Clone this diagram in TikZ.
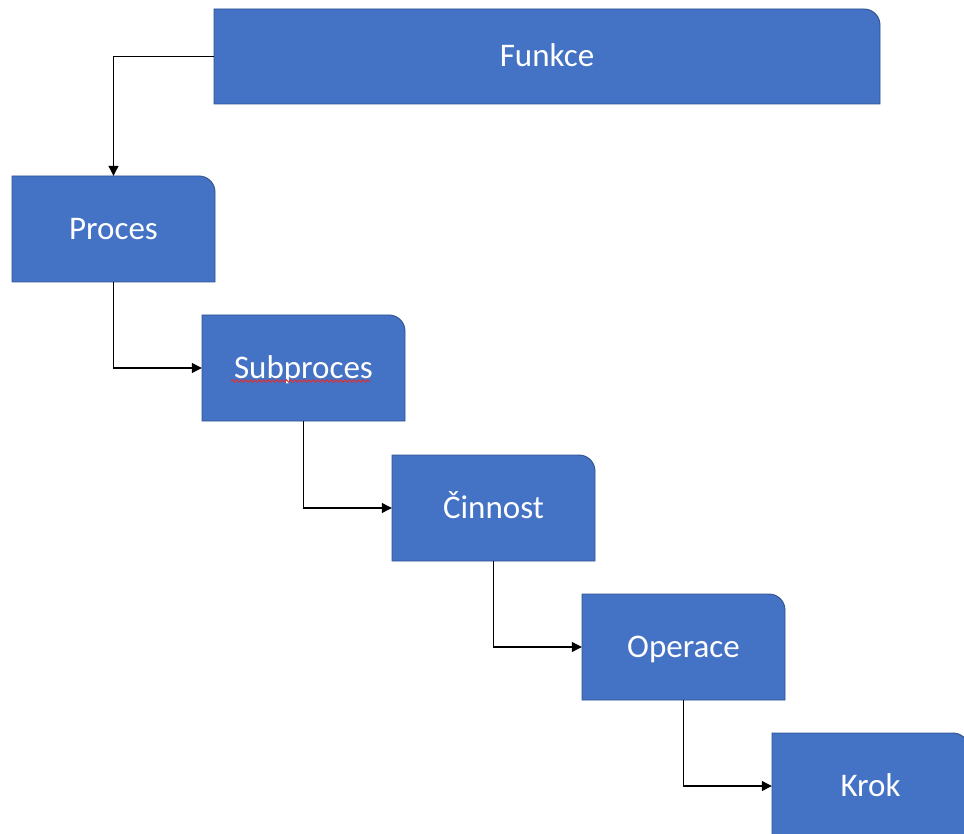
\documentclass[tikz,border=0pt]{standalone}
\usepackage{fontspec}
\setmainfont{Carlito}
\usetikzlibrary{arrows.meta,decorations.pathmorphing}
\definecolor{cardfill}{HTML}{4472C4}
\definecolor{cardline}{HTML}{2F528F}
\definecolor{spellred}{HTML}{E0312F}
\tikzset{
  cardbody/.style={fill=cardfill, draw=cardline, line width=0.9pt},
  cardtext/.style={text=white, inner sep=0pt, font=\fontsize{33}{39}\selectfont,
                   text height=21pt, text depth=0pt},
  conn/.style={draw=black, line width=1.1pt, -{Triangle[length=10pt,width=10pt]}},
  squiggle/.style={draw=spellred, line width=1pt,
                   decorate, decoration={snake, segment length=4.5pt, amplitude=1.2pt}}
}
% card: #1 name, #2 left, #3 top, #4 right, #5 bottom, #6 text
% rectangle with only its top-right corner rounded
\newcommand\drawcard[6]{%
  \path[cardbody] (#2,#3) -- (#4-16,#3)
    .. controls (#4-7.2,#3) and (#4,#3+7.2) .. (#4,#3+16)
    -- (#4,#5) -- (#2,#5) -- cycle;
  \node[cardtext, minimum width={#4-#2}, minimum height={#5-#3}]
    (#1) at ({(#2+#4)/2},{(#3+#5)/2}) {#6};%
}
\begin{document}
\begin{tikzpicture}[x=1pt, y=-1pt]
  \useasboundingbox (0,0) rectangle (964,834);
  \clip (0,0) rectangle (964,834);

  \drawcard{funkce}{214}{9}{880}{104}{Funkce}
  \drawcard{proces}{12}{176}{215}{282}{Proces}
  \drawcard{subproces}{202}{315}{405}{421}{Subproces}
  \drawcard{cinnost}{392}{455}{595}{561}{Činnost}
  \drawcard{operace}{582}{594}{785}{700}{Operace}
  \drawcard{krok}{772}{733}{969}{839}{Krok}

  % spell-check underline
  \coordinate (sqa) at (231,381);
  \coordinate (sqb) at (370,381);
  \draw[squiggle] (sqa) -- (sqb);

  % elbow connectors down the hierarchy
  \draw[conn] (funkce.west) -| (proces.north);
  \draw[conn] (proces.south) |- (subproces.west);
  \draw[conn] (subproces.south) |- (cinnost.west);
  \draw[conn] (cinnost.south) |- (operace.west);
  \draw[conn] (operace.south) |- (krok.west);
\end{tikzpicture}
\end{document}
